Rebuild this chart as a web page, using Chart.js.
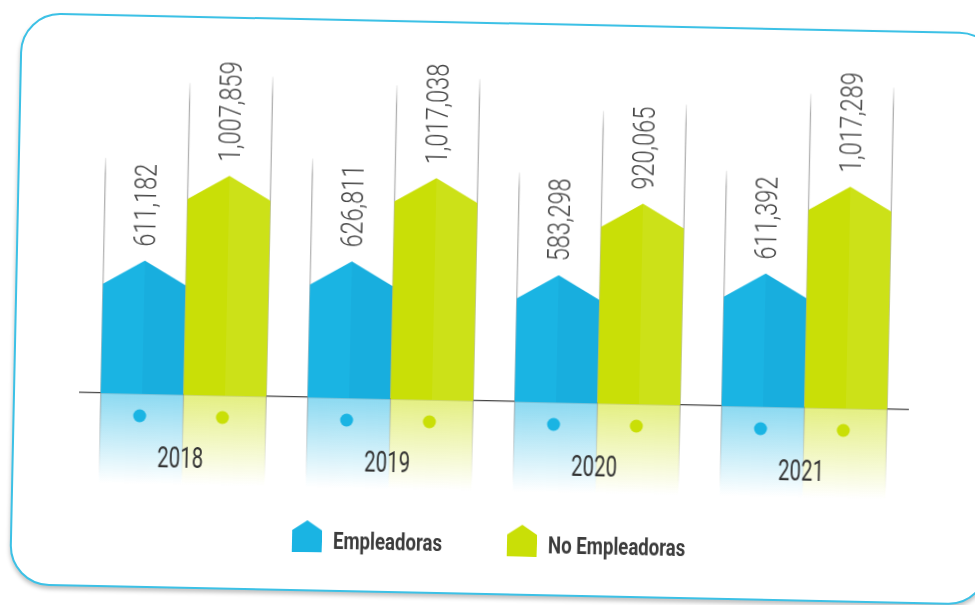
<!DOCTYPE html>
<html>
<head>
<meta charset="utf-8">
<script src="https://cdn.jsdelivr.net/npm/chart.js@4.4.0/dist/chart.umd.min.js"></script>
<style>
  html, body { margin: 0; padding: 0; background: #fff; overflow: hidden; }
  #wrap {
    position: absolute; left: 0; top: 0; width: 975px; height: 605px;
    transform: rotate(1.19deg); transform-origin: 50% 50%;
  }
  #card {
    position: absolute; left: 15px; top: 22px; width: 975px; height: 569px;
    border: 2.5px solid #3cc1e6; border-radius: 40px; background: #fff;
    box-shadow: 0 3px 4px rgba(0, 0, 0, 0.25);
  }
  #chart { position: absolute; left: 0; top: 0; }
  .leg { position: absolute; top: 524px; height: 32px; }
  .leg canvas { position: absolute; left: 0; top: 0; }
  .leg span {
    position: absolute; left: 41px; top: 7px; white-space: nowrap;
    font: 700 23px Roboto, sans-serif; color: #3b3b3b;
    transform: scaleX(0.81); transform-origin: 0 50%;
  }
</style>
</head>
<body>
<div id="wrap">
  <div id="card"></div>
  <canvas id="chart" width="975" height="605"></canvas>
  <div id="legend"></div>
</div>
<script>
const years = ['2018', '2019', '2020', '2021'];
const empleadoras = [611182, 626811, 583298, 611392];
const noEmpleadoras = [1007859, 1017038, 920065, 1017289];
const seriesNames = ['Empleadoras', 'No Empleadoras'];
const seriesColors = ['#1ab4e3', '#c9df07'];
const seriesRgb = ['26,180,227', '201,223,7'];

// little house icon for the legend
function houseIcon(color) {
    const c = document.createElement('canvas');
    c.width = 30; c.height = 32;
    const g = c.getContext('2d');
    g.fillStyle = color;
    g.beginPath();
    g.moveTo(0, 10); g.lineTo(15, 0); g.lineTo(30, 10); g.lineTo(30, 32); g.lineTo(0, 32);
    g.closePath();
    g.fill();
    return c;
}

// html legend, condensed text
const legendLefts = [297, 512];
const legendEl = document.getElementById('legend');
seriesNames.forEach((name, i) => {
    const item = document.createElement('div');
    item.className = 'leg';
    item.style.left = legendLefts[i] + 'px';
    item.appendChild(houseIcon(seriesColors[i]));
    const span = document.createElement('span');
    span.textContent = name;
    item.appendChild(span);
    legendEl.appendChild(item);
});

function fmt(v) {
    return v.toLocaleString('en-US');
}

// draws the house shaped bars, their reflection, guide lines and labels
const housePlugin = {
    id: 'houses',
    afterDatasetsDraw(chart) {
        const ctx = chart.ctx;
        const roof = 24;
        chart.data.datasets.forEach((ds, di) => {
            const meta = chart.getDatasetMeta(di);
            meta.data.forEach((bar, i) => {
                const p = bar.getProps(['x', 'y', 'base', 'width'], true);
                const l = p.x - p.width / 2, r = p.x + p.width / 2;
                const rgb = seriesRgb[di];
                ctx.save();

                // reflection under the axis
                const rg = ctx.createLinearGradient(0, p.base, 0, p.base + 90);
                rg.addColorStop(0, 'rgba(' + rgb + ',0.5)');
                rg.addColorStop(0.6, 'rgba(' + rgb + ',0.2)');
                rg.addColorStop(1, 'rgba(' + rgb + ',0)');
                ctx.fillStyle = rg;
                ctx.fillRect(l, p.base, p.width, 90);

                // thin guide lines above the bars
                const edges = di === 0 ? [[l, p.y - 102]] : [[l, p.y - 92], [r, p.y - 100]];
                edges.forEach(([ex, top]) => {
                    const lg = ctx.createLinearGradient(0, top, 0, p.base + 82);
                    lg.addColorStop(0, 'rgba(140,140,140,0.15)');
                    lg.addColorStop(0.05, 'rgba(140,140,140,0.7)');
                    lg.addColorStop(0.8, 'rgba(140,140,140,0.5)');
                    lg.addColorStop(1, 'rgba(140,140,140,0)');
                    ctx.strokeStyle = lg;
                    ctx.lineWidth = 1.3;
                    ctx.beginPath();
                    ctx.moveTo(ex, top);
                    ctx.lineTo(ex, p.base + 82);
                    ctx.stroke();
                });

                // the house
                ctx.fillStyle = seriesColors[di];
                ctx.beginPath();
                ctx.moveTo(l, p.base);
                ctx.lineTo(l, p.y + roof);
                ctx.lineTo(p.x, p.y);
                ctx.lineTo(r, p.y + roof);
                ctx.lineTo(r, p.base);
                ctx.closePath();
                ctx.fill();
                // slight shading on one half
                ctx.fillStyle = di === 0 ? 'rgba(0,60,110,0.04)' : 'rgba(255,255,255,0.07)';
                ctx.beginPath();
                ctx.moveTo(p.x, p.base);
                ctx.lineTo(p.x, p.y);
                ctx.lineTo(r, p.y + roof);
                ctx.lineTo(r, p.base);
                ctx.closePath();
                ctx.fill();

                // dot in the reflection
                ctx.fillStyle = seriesColors[di];
                ctx.beginPath();
                ctx.arc(p.x - 2, p.base + 22, 6.5, 0, Math.PI * 2);
                ctx.fill();

                // rotated value label
                ctx.translate(p.x + 2, p.y - 14);
                ctx.rotate(-Math.PI / 2);
                ctx.scale(0.76, 1);
                ctx.fillStyle = '#454545';
                ctx.font = '300 31px Roboto';
                ctx.textAlign = 'left';
                ctx.textBaseline = 'middle';
                ctx.fillText(fmt(ds.data[i]), 0, 0);
                ctx.restore();
            });
        });

        // year labels in the reflection, condensed
        const xs = chart.scales.x;
        ctx.save();
        ctx.fillStyle = '#333';
        ctx.font = '400 30px Roboto';
        ctx.textAlign = 'center';
        ctx.textBaseline = 'middle';
        chart.data.labels.forEach((lab, i) => {
            ctx.save();
            ctx.translate(xs.getPixelForValue(i) - 2, xs.top + 65);
            ctx.scale(0.68, 1);
            ctx.fillText(lab, 0, 0);
            ctx.restore();
        });
        ctx.restore();
    }
};

new Chart(document.getElementById('chart'), {
    type: 'bar',
    data: {
        labels: years,
        datasets: [
            { label: seriesNames[0], data: empleadoras, backgroundColor: 'rgba(0,0,0,0)' },
            { label: seriesNames[1], data: noEmpleadoras, backgroundColor: 'rgba(0,0,0,0)' }
        ]
    },
    options: {
        responsive: false,
        animation: false,
        events: [],
        categoryPercentage: 0.8,
        barPercentage: 1.0,
        layout: { padding: { left: 82, right: 65, top: 74, bottom: 130 } },
        scales: {
            x: {
                z: 1,
                grid: { display: false },
                border: { display: true, color: '#444', width: 1.2 },
                ticks: { display: false },
                afterFit: (scale) => { scale.height = 74; }
            },
            y: {
                display: false,
                min: 0,
                max: 1500000
            }
        },
        plugins: {
            tooltip: { enabled: false },
            legend: { display: false }
        }
    },
    plugins: [housePlugin]
});
</script>
</body>
</html>
